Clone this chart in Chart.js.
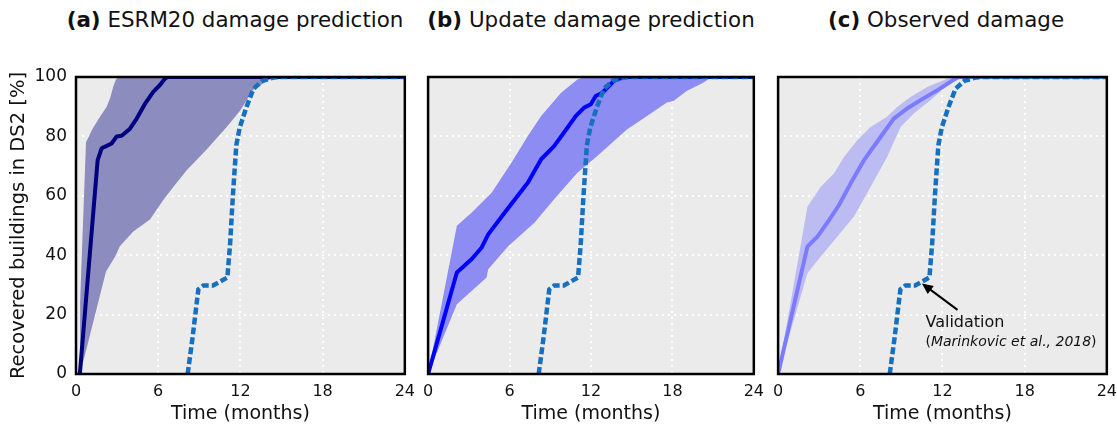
<!DOCTYPE html>
<html>
<head>
<meta charset="utf-8">
<script src="https://cdn.jsdelivr.net/npm/chart.js@4.4.1/dist/chart.umd.min.js"></script>
<style>
  html, body { margin: 0; padding: 0; background: #fff; }
  #wrap { position: relative; width: 1117px; height: 434px; overflow: hidden; font-family: 'DejaVu Sans', sans-serif; }
  canvas { position: absolute; top: 0; }
  .ttl { position: absolute; top: 8px; font-size: 21.4px; line-height: 24px; text-align: center; color: #111; white-space: nowrap; }
</style>
</head>
<body>
<div id="wrap">
  <div class="ttl" style="left:50px;width:370px;"><b>(a)</b> ESRM20 damage prediction</div>
  <div class="ttl" style="left:406px;width:370px;"><b>(b)</b> Update damage prediction</div>
  <div class="ttl" style="left:761px;width:370px;"><b>(c)</b> Observed damage</div>
  <canvas id="ca" style="left:0px;"></canvas>
  <canvas id="cb" style="left:415px;"></canvas>
  <canvas id="cc" style="left:765px;"></canvas>
</div>
<script>
// ---- axis ticks ----
const monthTicks = [0, 6, 12, 18, 24];
const percentTicks = [0, 20, 40, 60, 80, 100];

// ---- observed recovery (validation, Marinkovic et al., 2018) [month, %] ----
const validationCurve = [[8.15,0],[8.5,12],[8.93,28.5],[9.3,29.8],[10.0,29.8],[11.05,32.5],[11.25,44],[11.45,60],[11.7,77],[11.95,83],[12.45,90],[12.95,96],[13.6,98.7],[14.4,99.8],[15,100],[24,100]];

// ---- (a) ESRM20 damage prediction ----
const esrmMedian = [[0.28,0],[1.58,72],[1.87,76],[2.24,76.8],[2.6,77.6],[2.97,80],[3.33,80.2],[3.94,82.6],[4.43,86],[5.04,91],[5.64,95],[6.13,97.3],[6.5,99.5],[6.7,100],[24,100]];
const esrmUpper = [[0.1,0],[0.73,78],[1.2,82.5],[1.75,86.6],[2.24,90],[2.5,93],[2.7,96.5],[2.9,99],[3.1,100],[24,100]];
const esrmLower = [[0.3,0],[2.19,34.5],[2.85,39.5],[3.2,43],[4.18,48],[5.4,52],[6.37,58.6],[7.1,63],[8.08,68.6],[9.5,75.4],[11,83.2],[12,88.8],[12.9,95.5],[13.9,98.6],[14.4,99.7],[14.8,100],[24,100]];

// ---- (b) Update damage prediction ----
const updMedian = [[0,0],[2.12,34.2],[3.22,38.7],[3.95,42.6],[4.43,47],[5.65,54.4],[7.36,64.5],[8.33,72.3],[9.3,76.8],[10.28,83],[10.89,86.9],[11.5,89.7],[11.99,90.8],[12.35,93.6],[12.84,94.7],[13.69,98.7],[14.18,99.6],[14.6,100],[24,100]];
const updUpper = [[0,0],[2.12,49.9],[3.22,54.4],[4.68,61],[6.14,71.1],[7.36,80.2],[8.33,86.9],[9.8,94.7],[11.0,99.2],[11.5,100],[24,100]];
const updLower = [[0,0],[2.12,23.5],[4.31,32.5],[4.43,35.3],[5.9,43],[7.85,51],[9.3,58.9],[11.0,67.8],[12.47,73.4],[13.45,77.4],[14.67,82.4],[16.13,86.9],[17.59,91.4],[18.08,91.9],[19.05,95.3],[20.27,98.1],[20.76,99.6],[21.2,100],[24,100]];

// ---- (c) Observed damage ----
const obsMedian = [[0,0],[2.14,42.9],[2.86,46.2],[3.72,51.8],[4.45,56.9],[5.3,64.2],[6.27,72],[7.48,79.8],[8.45,86],[9.42,89.4],[10.4,92.2],[11.61,95.5],[13.07,99.8],[13.3,100],[24,100]];
const obsUpper = [[0,0],[2.14,56.3],[3.1,63],[4.08,67.5],[4.81,73.1],[5.78,78.7],[6.75,83.2],[7.96,86.6],[8.69,89.9],[9.66,93.3],[10.88,96.6],[12.34,99.4],[12.7,100],[24,100]];
const obsLower = [[0,0],[2.14,33.9],[3.1,39.5],[4.32,46.2],[5.54,53],[6.75,63],[7.96,73.1],[8.94,83.2],[9.91,87.7],[11.12,92.2],[12.1,96.1],[13.07,99.4],[13.4,100],[24,100]];

// ---- annotation (panel c), data coordinates ----
const arrowTip = [10.5, 30.5];
const arrowTail = [13.1, 21.6];
const noteLine1 = 'Validation';
const noteLine2 = ['(', 'Marinkovic et al., 2018', ')'];
const noteAnchor = [10.76, 17.2];
const noteAnchor2 = [10.76, 10.8];

const FONT = "'DejaVu Sans', sans-serif";
Chart.defaults.font.family = FONT;
Chart.defaults.color = '#111';

const toPts = arr => arr.map(p => ({x: p[0], y: p[1]}));

const frame = {
  id: 'frame',
  beforeDraw(chart) {
    const a = chart.chartArea, c = chart.ctx;
    c.save(); c.fillStyle = '#ebebeb';
    c.fillRect(a.left, a.top, a.right - a.left, a.bottom - a.top);
    c.restore();
  },
  afterDraw(chart) {
    const a = chart.chartArea, c = chart.ctx;
    c.save(); c.strokeStyle = '#000'; c.lineWidth = 2.5;
    c.strokeRect(a.left, a.top, a.right - a.left, a.bottom - a.top);
    c.restore();
  }
};

const annot = {
  id: 'annot',
  afterDatasetsDraw(chart) {
    const x = chart.scales.x, y = chart.scales.y, c = chart.ctx;
    const tx = x.getPixelForValue(arrowTip[0]), ty = y.getPixelForValue(arrowTip[1]);
    const sx = x.getPixelForValue(arrowTail[0]), sy = y.getPixelForValue(arrowTail[1]);
    const ang = Math.atan2(ty - sy, tx - sx);
    const hl = 11, hw = 5;
    c.save();
    c.strokeStyle = '#000'; c.fillStyle = '#000'; c.lineWidth = 2;
    c.beginPath(); c.moveTo(sx, sy);
    c.lineTo(tx - Math.cos(ang) * hl * 0.8, ty - Math.sin(ang) * hl * 0.8); c.stroke();
    c.beginPath();
    c.moveTo(tx, ty);
    c.lineTo(tx - Math.cos(ang) * hl + Math.sin(ang) * hw, ty - Math.sin(ang) * hl - Math.cos(ang) * hw);
    c.lineTo(tx - Math.cos(ang) * hl - Math.sin(ang) * hw, ty - Math.sin(ang) * hl + Math.cos(ang) * hw);
    c.closePath(); c.fill();
    c.fillStyle = '#111'; c.textBaseline = 'middle'; c.textAlign = 'left';
    c.font = "16px " + FONT;
    c.fillText(noteLine1, x.getPixelForValue(noteAnchor[0]), y.getPixelForValue(noteAnchor[1]));
    let px = x.getPixelForValue(noteAnchor2[0]); const py = y.getPixelForValue(noteAnchor2[1]);
    noteLine2.forEach((s, i) => {
      c.font = (i === 1 ? 'italic ' : '') + '14px ' + FONT;
      c.fillText(s, px, py);
      px += c.measureText(s).width;
    });
    c.restore();
  }
};

function buildChart(canvas, width, upper, lower, median, fillColor, lineColor, area, showY, extraPlugins) {
  canvas.width = width; canvas.height = 434;
  canvas.style.width = width + 'px'; canvas.style.height = '434px';
  return new Chart(canvas, {
    type: 'line',
    data: {
      datasets: [
        {data: toPts(lower), order: 4, borderWidth: 0, pointRadius: 0, fill: false, tension: 0, clip: 0, backgroundColor: fillColor, borderColor: 'rgba(0,0,0,0)'},
        {data: toPts(upper), order: 3, borderWidth: 0, pointRadius: 0, fill: '-1', tension: 0, clip: 0, backgroundColor: fillColor, borderColor: 'rgba(0,0,0,0)'},
        {data: toPts(median), order: 2, borderWidth: 4, pointRadius: 0, fill: false, tension: 0, clip: 0, borderColor: lineColor, borderJoinStyle: 'round'},
        {data: toPts(validationCurve), order: 1, borderWidth: 4.5, borderDash: [7, 3], pointRadius: 0, fill: false, tension: 0, clip: 0, borderColor: '#1570c0'}
      ]
    },
    options: {
      responsive: false, animation: false, events: [],
      layout: {padding: {top: area.top, right: 0, left: 0, bottom: 0}},
      plugins: {legend: {display: false}, tooltip: {enabled: false}, title: {display: false}},
      scales: {
        x: {
          type: 'linear', min: 0, max: 24,
          afterBuildTicks: s => { s.ticks = monthTicks.map(v => ({value: v})); },
          afterFit: s => { s.height = 60; },
          ticks: {font: {size: 16}, color: '#111', padding: 8, maxRotation: 0},
          grid: {color: 'rgba(255,255,255,0.95)', lineWidth: 2, drawTicks: false},
          border: {display: false, dash: [2, 4]},
          title: {display: true, text: 'Time (months)', font: {size: 19}, color: '#111', padding: {top: 0, bottom: 9}}
        },
        y: {
          type: 'linear', min: 0, max: 100,
          afterBuildTicks: s => { s.ticks = percentTicks.map(v => ({value: v})); },
          afterFit: s => { s.width = area.left; },
          ticks: {display: showY, font: {size: 17}, color: '#111', padding: 9},
          grid: {color: 'rgba(255,255,255,0.95)', lineWidth: 2, drawTicks: false},
          border: {display: false, dash: [2, 4]},
          title: {display: showY, text: 'Recovered buildings in DS2 [%]', font: {size: 19.5}, color: '#111', padding: {top: 7, bottom: 0}}
        }
      }
    },
    plugins: [frame].concat(extraPlugins || [])
  });
}

function makeChart(id, upper, lower, median, fillColor, lineColor, area, showY, extraPlugins) {
  const canvas = document.getElementById(id);
  let width = area.right + 18;
  let chart = buildChart(canvas, width, upper, lower, median, fillColor, lineColor, area, showY, extraPlugins);
  for (let k = 0; k < 3; k++) {
    const diff = area.right - chart.chartArea.right;
    if (Math.abs(diff) < 0.3) break;
    width = width + diff;
    chart.destroy();
    chart = buildChart(canvas, Math.round(width * 4) / 4, upper, lower, median, fillColor, lineColor, area, showY, extraPlugins);
  }
  return chart;
}

makeChart('ca', esrmUpper, esrmLower, esrmMedian, '#8c8cbe', '#000080', {left: 76, right: 405, top: 77}, true);
makeChart('cb', updUpper, updLower, updMedian, '#8c8cf2', '#0000ff', {left: 11, right: 339, top: 77}, false);
makeChart('cc', obsUpper, obsLower, obsMedian, '#bcbcf2', '#7b7bff', {left: 12, right: 342, top: 77}, false, [annot]);
</script>
</body>
</html>
